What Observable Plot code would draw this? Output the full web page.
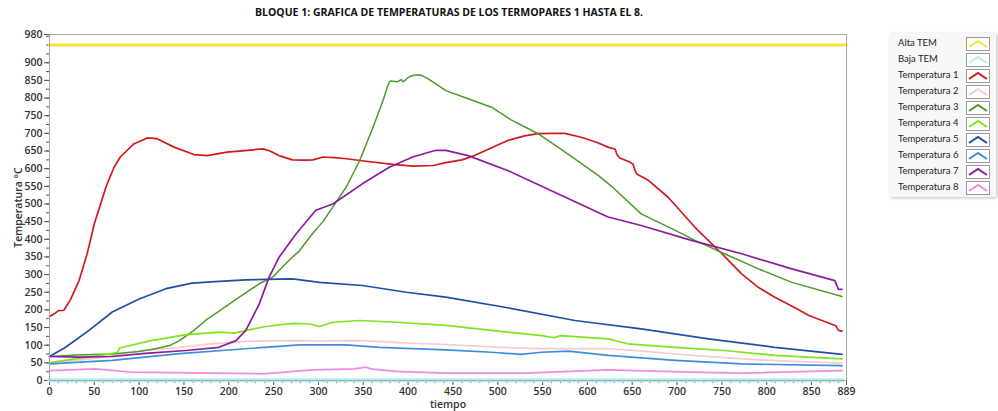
<!DOCTYPE html>
<html>
<head>
<meta charset="utf-8">
<script src="https://cdn.jsdelivr.net/npm/d3@7"></script>
<script src="https://cdn.jsdelivr.net/npm/@observablehq/plot@0.6"></script>
<style>
  html, body { margin: 0; padding: 0; background: #fff; }
  #wrap { position: relative; width: 998px; height: 411px; overflow: hidden; font-family: "Open Sans", "Noto Sans", sans-serif; }
  #title { position: absolute; left: 0; width: 898px; top: 5px; text-align: center; font-size: 10.5px; font-weight: 700; color: #111; }
  #chart { position: absolute; left: 0; top: 24px; }
  #legend { position: absolute; left: 890px; top: 33px; width: 106px; height: 164px; background: #f7f7f7; box-shadow: 1px 1px 3px rgba(0,0,0,0.25); }
  .row { position: absolute; left: 0; width: 106px; height: 16px; }
  .row span { position: absolute; left: 8px; top: 1px; font-family: Lato, "Open Sans", sans-serif; font-size: 9.5px; color: #222; }
  .row svg { position: absolute; left: 76px; top: 1px; }
</style>
</head>
<body>
<div id="wrap">
  <div id="title">BLOQUE 1: GRAFICA DE TEMPERATURAS DE LOS TERMOPARES 1 HASTA EL 8.</div>
  <div id="chart"></div>
  <div id="legend"></div>
</div>
<script>
// ---- tick labels ----
const yTicks = [0,50,100,150,200,250,300,350,400,450,500,550,600,650,700,750,800,850,900,980];
const xTicks = [0,50,100,150,200,250,300,350,400,450,500,550,600,650,700,750,800,850,889];

// ---- series: [tiempo, temperatura] ----
const altaTem = [[0,950],[889,950]];
const bajaTem = [[0,1],[885,1]];
const temp1 = [[0,181],[6,190],[10,198],[16,199],[23,227],[33,283],[42,359],[50,444],[57,500],[63,548],[72,604],[79,633],[94,670],[109,687],[120,685],[139,661],[161,640],[176,637],[198,647],[221,652],[238,656],[246,650],[256,637],[271,625],[285,624],[294,625],[305,633],[318,631],[331,628],[353,621],[383,612],[405,607],[428,609],[442,617],[460,625],[474,637],[492,658],[511,680],[530,693],[545,699],[560,700],[575,700],[593,689],[610,675],[623,661],[631,655],[633,640],[636,630],[648,618],[651,612],[653,595],[655,585],[668,567],[690,519],[720,434],[750,359],[772,302],[790,265],[809,236],[830,208],[847,184],[872,160],[877,155],[880,142],[884,140]];
const temp2 = [[0,52],[30,57],[60,66],[100,84],[145,94],[180,104],[219,111],[271,113],[300,112],[349,113],[400,106],[442,102],[493,95],[549,90],[623,90],[660,84],[698,75],[740,67],[772,61],[830,54],[884,49]];
const temp3 = [[0,68],[30,72],[70,75],[100,82],[118,90],[135,100],[145,113],[160,140],[174,170],[190,198],[206,226],[220,250],[234,274],[249,293],[267,340],[279,368],[293,415],[305,450],[316,491],[331,548],[346,623],[361,718],[372,793],[378,840],[380,848],[388,846],[392,852],[395,846],[400,858],[405,864],[413,866],[420,858],[428,845],[442,821],[467,798],[493,774],[515,738],[545,699],[578,642],[612,581],[627,550],[660,472],[698,425],[720,397],[753,359],[791,316],[828,278],[884,238]];
const temp4 = [[0,50],[30,62],[60,72],[76,80],[78,92],[113,113],[153,130],[191,137],[206,134],[224,144],[241,153],[271,162],[290,160],[301,153],[316,165],[346,170],[387,165],[442,156],[493,142],[549,127],[563,121],[570,127],[623,118],[645,104],[698,94],[753,85],[809,71],[884,61]];
const temp5 = [[0,68],[18,94],[44,142],[70,194],[100,231],[130,260],[159,276],[189,281],[219,285],[271,288],[301,278],[349,269],[398,250],[442,236],[511,206],[586,170],[660,146],[735,118],[809,94],[884,74]];
const temp6 = [[0,47],[70,57],[145,76],[219,90],[279,101],[331,101],[368,94],[442,87],[493,80],[526,74],[549,80],[579,83],[623,71],[698,57],[772,47],[884,42]];
const temp7 = [[0,68],[33,66],[70,68],[107,77],[152,85],[189,94],[208,113],[219,142],[234,217],[245,293],[256,349],[275,415],[297,482],[316,500],[349,557],[379,604],[405,633],[431,652],[442,652],[467,637],[511,595],[567,529],[623,463],[660,439],[716,397],[772,359],[828,316],[876,283],[880,258],[884,258]];
const temp8 = [[0,28],[51,33],[89,24],[182,21],[238,19],[294,30],[340,33],[353,38],[360,32],[387,26],[442,21],[530,21],[623,30],[716,24],[772,21],[884,28]];

const seriesNames = ["Alta TEM","Baja TEM","Temperatura 1","Temperatura 2","Temperatura 3","Temperatura 4","Temperatura 5","Temperatura 6","Temperatura 7","Temperatura 8"];
const seriesData = [altaTem,bajaTem,temp1,temp2,temp3,temp4,temp5,temp6,temp7,temp8];
const seriesColors = ["#f4e53c","#b4eef2","#d4191c","#f7cccc","#4c9a2a","#7fe41f","#1f4ea6","#3c8fdb","#8c1b9d","#ee8ae6"];
const seriesWidths = [3,4,1.7,1.7,1.5,1.7,1.7,1.7,1.7,1.7];

const font = {fontFamily: "'Open Sans', 'Noto Sans', sans-serif", fontSize: "10.5px", fontWeight: 600, color: "#333"};

const lineMarks = seriesData.map((d, i) => Plot.line(d, {x: p => p[0], y: p => p[1], stroke: seriesColors[i], strokeWidth: seriesWidths[i]}));

const chart = Plot.plot({
  width: 998,
  height: 387,
  marginLeft: 49,
  marginRight: 152,
  marginTop: 10,
  marginBottom: 31,
  style: font,
  x: {domain: [0, 889]},
  y: {domain: [0, 980]},
  marks: [
    Plot.axisY({ticks: d3.range(0, 981, 25), tickSize: 3, text: null, stroke: "#555"}),
    Plot.axisX({ticks: d3.range(0, 890, 10), tickSize: 3, text: null, stroke: "#555"}),
    Plot.axisY({ticks: yTicks, tickSize: 5, tickPadding: 2, tickFormat: d => String(d), label: "Temperatura °C", labelAnchor: "center", labelArrow: "none", labelOffset: 35, stroke: "#555", fill: "#333"}),
    Plot.axisX({ticks: xTicks, tickSize: 5, tickPadding: 2, tickFormat: d => String(d), label: "tiempo", labelAnchor: "center", labelArrow: "none", labelOffset: 27, stroke: "#555", fill: "#333"}),
    ...lineMarks,
    Plot.frame({stroke: "#a8a8a8"})
  ]
});
document.getElementById("chart").appendChild(chart);

// legend
const legend = document.getElementById("legend");
seriesNames.forEach((name, i) => {
  const row = document.createElement("div");
  row.className = "row";
  row.style.top = (3 + i * 16) + "px";
  row.innerHTML = `<span>${name}</span><svg width="24" height="14"><rect x="0.5" y="0.5" width="23" height="13" fill="#fff" stroke="#999"/><polyline points="3,10 12,4 21,10" fill="none" stroke="${seriesColors[i]}" stroke-width="2"/></svg>`;
  legend.appendChild(row);
});
</script>
</body>
</html>
